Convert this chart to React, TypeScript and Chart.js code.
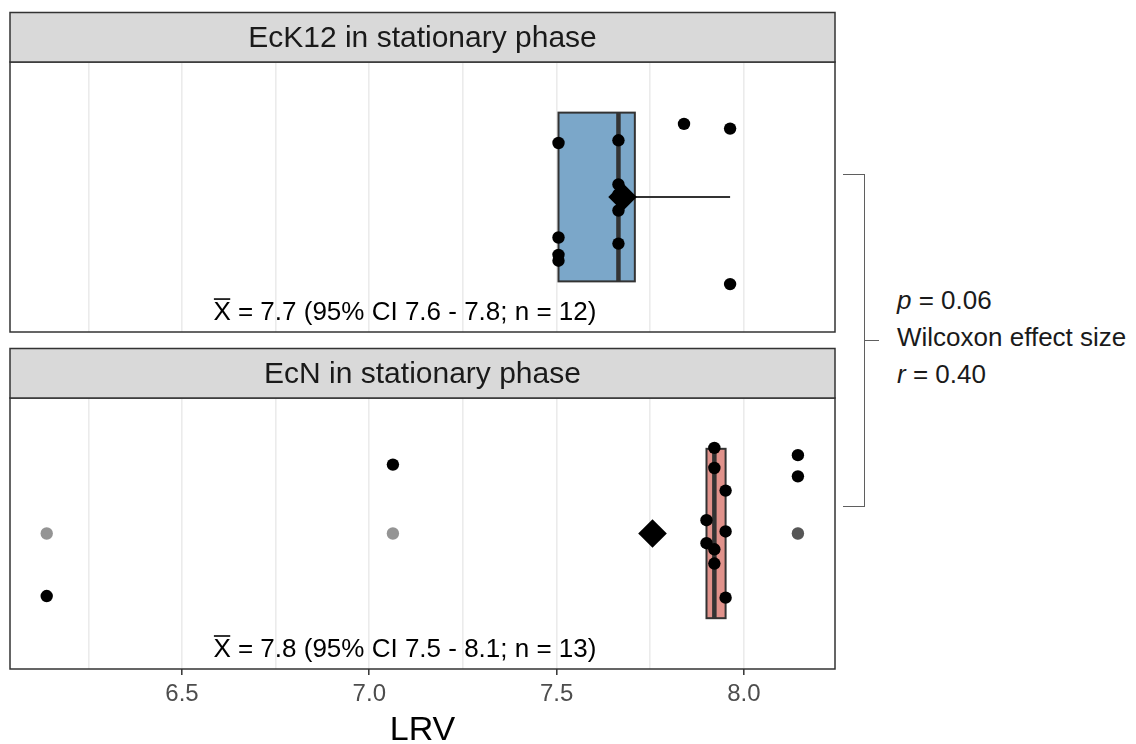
import React, { useEffect, useRef } from 'react';
import { Chart, registerables } from 'chart.js';

Chart.register(...registerables);

// ---- data -------------------------------------------------------------
const X_MIN = 6.041;
const X_MAX = 8.243;
const gridBreaks = [6.25, 6.5, 6.75, 7.0, 7.25, 7.5, 7.75, 8.0];
const tickValues = [6.5, 7.0, 7.5, 8.0];
const tickLabels = ['6.5', '7.0', '7.5', '8.0'];
const axisTitle = 'LRV';

const panelTitles = ['EcK12 in stationary phase', 'EcN in stationary phase'];
const boxColors = ['#7ba7c9', '#e0928b'];

// log reduction value per sample, plus the vertical jitter of each dot
const ecK12Lrv = [7.505, 7.665, 7.84, 7.963, 7.665, 7.665, 7.665, 7.505, 7.505, 7.505, 7.665, 7.963];
const ecK12Jitter = [0.24, 0.252, 0.325, 0.304, 0.056, 0.012, -0.06, -0.18, -0.257, -0.283, -0.207, -0.387];
const ecNLrv = [7.921, 7.921, 7.951, 7.9, 7.951, 7.9, 7.921, 7.921, 7.951, 8.144, 8.144, 6.139, 7.063];
const ecNJitter = [0.379, 0.29, 0.19, 0.059, 0.009, -0.043, -0.07, -0.133, -0.284, 0.347, 0.253, -0.277, 0.305];

const ciLow = [7.6, 7.5];
const ciHigh = [7.8, 8.1];

const pValue = '0.06';
const effectSizeR = '0.40';

// ---- layout constants -------------------------------------------------
const FONT = '"Liberation Sans", Arial, Helvetica, sans-serif';
const CANVAS_W = 845;
const BOX_HALF = 0.375;
const ANNOT_X = 7.095;
const ANNOT_Y = 0.487;

const panelValues = [ecK12Lrv, ecNLrv];
const panelJitter = [ecK12Jitter, ecNJitter];

function quantile(sorted: number[], p: number) {
  const h = (sorted.length - 1) * p;
  const lo = Math.floor(h);
  const hi = Math.ceil(h);
  return sorted[lo] + (h - lo) * (sorted[hi] - sorted[lo]);
}

function boxStats(vals: number[]) {
  const s = [...vals].sort((a, b) => a - b);
  const q1 = quantile(s, 0.25);
  const med = quantile(s, 0.5);
  const q3 = quantile(s, 0.75);
  const iqr = q3 - q1;
  const lf = q1 - 1.5 * iqr;
  const uf = q3 + 1.5 * iqr;
  const inside = s.filter((v) => v >= lf - 1e-9 && v <= uf + 1e-9);
  const outliers = s.filter((v) => v < lf - 1e-9 || v > uf + 1e-9);
  const mean = s.reduce((a, b) => a + b, 0) / s.length;
  return { q1, med, q3, lo: inside[0], hi: inside[inside.length - 1], outliers, mean, n: s.length };
}

function makePlugin(idx: number) {
  const st = boxStats(panelValues[idx]);
  return {
    id: 'facet' + idx,
    beforeDatasetsDraw(chart: any) {
      const { ctx, scales } = chart;
      const x = scales.x;
      const y = scales.y;
      const yc = y.getPixelForValue(1);
      const yTop = y.getPixelForValue(1 + BOX_HALF);
      const yBot = y.getPixelForValue(1 - BOX_HALF);
      const xq1 = x.getPixelForValue(st.q1);
      const xq3 = x.getPixelForValue(st.q3);
      ctx.save();
      ctx.strokeStyle = '#333333';
      ctx.lineWidth = 2;
      ctx.beginPath();
      ctx.moveTo(x.getPixelForValue(st.lo), yc);
      ctx.lineTo(xq1, yc);
      ctx.moveTo(xq3, yc);
      ctx.lineTo(x.getPixelForValue(st.hi), yc);
      ctx.stroke();
      ctx.fillStyle = boxColors[idx];
      ctx.fillRect(xq1, yTop, xq3 - xq1, yBot - yTop);
      ctx.strokeRect(xq1, yTop, xq3 - xq1, yBot - yTop);
      ctx.lineWidth = 4.5;
      const xm = x.getPixelForValue(st.med);
      ctx.beginPath();
      ctx.moveTo(xm, yTop);
      ctx.lineTo(xm, yBot);
      ctx.stroke();
      ctx.restore();
    },
    afterDatasetsDraw(chart: any) {
      const { ctx, scales } = chart;
      const x = scales.x;
      const y = scales.y;
      const rest = `= ${st.mean.toFixed(1)} (95% CI ${ciLow[idx].toFixed(1)} - ${ciHigh[idx].toFixed(1)}; n = ${st.n})`;
      ctx.save();
      ctx.font = `26px ${FONT}`;
      ctx.textBaseline = 'middle';
      ctx.textAlign = 'left';
      ctx.fillStyle = '#000000';
      const wX = ctx.measureText('X').width;
      const wSp = ctx.measureText(' ').width;
      const wRest = ctx.measureText(rest).width;
      const total = wX + wSp + wRest;
      const sx = x.getPixelForValue(ANNOT_X) - total / 2;
      const cy = y.getPixelForValue(ANNOT_Y);
      ctx.fillText('X', sx, cy);
      ctx.fillText(rest, sx + wX + wSp, cy);
      // bar over the X (sample mean)
      ctx.strokeStyle = '#000000';
      ctx.lineWidth = 1.6;
      const oy = cy - 26 * 0.36 - 4;
      ctx.beginPath();
      ctx.moveTo(sx + 0.5, oy);
      ctx.lineTo(sx + wX - 0.5, oy);
      ctx.stroke();
      ctx.restore();
    },
    afterDraw(chart: any) {
      const { ctx, chartArea } = chart;
      const { left, right, top, bottom } = chartArea;
      const stripTop = top - 49.5;
      ctx.save();
      ctx.lineWidth = 1.5;
      ctx.strokeStyle = '#333333';
      ctx.strokeRect(left, top, right - left, bottom - top);
      ctx.fillStyle = '#d9d9d9';
      ctx.fillRect(left, stripTop, right - left, top - stripTop);
      ctx.strokeRect(left, stripTop, right - left, top - stripTop);
      ctx.fillStyle = '#1a1a1a';
      ctx.font = `30px ${FONT}`;
      ctx.textAlign = 'center';
      ctx.textBaseline = 'middle';
      ctx.fillText(panelTitles[idx], (left + right) / 2, (stripTop + top) / 2 + 1);
      ctx.restore();
    },
  };
}

function FacetPanel({ idx, top, height, padTop, padBottom, axisHeight, showAxis }: any) {
  const ref = useRef<HTMLCanvasElement>(null);

  useEffect(() => {
    const canvas = ref.current;
    if (!canvas) return;
    const vals = panelValues[idx];
    const jit = panelJitter[idx];
    const st = boxStats(vals);

    const chart = new Chart(canvas, {
      type: 'scatter',
      data: {
        datasets: [
          {
            label: 'mean',
            data: [{ x: st.mean, y: 1 }],
            pointStyle: 'rectRot',
            pointRadius: 14.3,
            pointBackgroundColor: '#000000',
            pointBorderWidth: 0,
            order: 0,
          },
          {
            label: 'samples',
            data: vals.map((v, i) => ({ x: v, y: 1 + jit[i] })),
            pointRadius: 6.2,
            pointBackgroundColor: '#000000',
            pointBorderWidth: 0,
            order: 1,
          },
          {
            label: 'outliers',
            data: st.outliers.map((v) => ({ x: v, y: 1 })),
            pointRadius: 6.2,
            pointBackgroundColor: 'rgba(0,0,0,0.42)',
            pointBorderWidth: 0,
            order: 2,
          },
        ],
      },
      options: {
        animation: false,
        responsive: false,
        events: [],
        layout: { autoPadding: false, padding: { left: 10, right: 10, top: padTop, bottom: padBottom } },
        plugins: { legend: { display: false }, tooltip: { enabled: false } },
        scales: {
          x: {
            type: 'linear',
            min: X_MIN,
            max: X_MAX,
            afterBuildTicks: (axis: any) => {
              axis.ticks = gridBreaks.map((v) => ({ value: v }));
            },
            afterFit: (axis: any) => {
              axis.height = axisHeight;
            },
            border: { display: false },
            grid: {
              color: '#ebebeb',
              lineWidth: 1.6,
              drawTicks: showAxis,
              tickLength: 6,
              tickWidth: 1.5,
              tickColor: (c: any) =>
                c.tick && tickValues.includes(c.tick.value) ? '#333333' : 'rgba(0,0,0,0)',
            },
            ticks: {
              display: showAxis,
              autoSkip: false,
              maxRotation: 0,
              padding: 5,
              color: '#4d4d4d',
              font: { family: FONT, size: 24, lineHeight: 1.2 },
              callback: (v: any) => {
                const i = tickValues.indexOf(Number(v));
                return i >= 0 ? tickLabels[i] : '';
              },
            },
            title: {
              display: showAxis,
              text: axisTitle,
              color: '#000000',
              font: { family: FONT, size: 34, lineHeight: 0.8 },
              padding: { top: 0, bottom: 0 },
            },
          },
          y: { type: 'linear', min: 0.4, max: 1.6, display: false },
        },
      },
      plugins: [makePlugin(idx)],
    } as any);

    return () => chart.destroy();
  }, [idx, padTop, padBottom, axisHeight, showAxis]);

  return (
    <canvas
      ref={ref}
      width={CANVAS_W}
      height={height}
      style={{ position: 'absolute', left: 0, top, width: CANVAS_W, height }}
    />
  );
}

export default function App() {
  const bracketColor = '#5f5f5f';
  return (
    <div
      style={{
        position: 'absolute',
        left: 0,
        top: 0,
        width: 1136,
        height: 744,
        background: '#ffffff',
        overflow: 'hidden',
      }}
    >
      <FacetPanel idx={0} top={0} height={340} padTop={62} padBottom={8} axisHeight={0} showAxis={false} />
      <FacetPanel idx={1} top={340} height={404} padTop={58} padBottom={0} axisHeight={75} showAxis={true} />

      {/* bracket linking the two groups */}
      <div
        style={{
          position: 'absolute',
          left: 843,
          top: 174,
          width: 22,
          height: 333,
          borderTop: `1.5px solid ${bracketColor}`,
          borderRight: `1.5px solid ${bracketColor}`,
          borderBottom: `1.5px solid ${bracketColor}`,
          boxSizing: 'border-box',
        }}
      />
      <div
        style={{
          position: 'absolute',
          left: 865,
          top: 340,
          width: 14,
          height: 0,
          borderTop: `1.5px solid ${bracketColor}`,
        }}
      />
      <div
        style={{
          position: 'absolute',
          left: 897,
          top: 282,
          font: `26px ${FONT}`,
          lineHeight: '37px',
          color: '#1a1a1a',
          whiteSpace: 'nowrap',
        }}
      >
        <div>
          <i>p</i> = {pValue}
        </div>
        <div>Wilcoxon effect size</div>
        <div>
          <i>r</i> = {effectSizeR}
        </div>
      </div>
    </div>
  );
}
